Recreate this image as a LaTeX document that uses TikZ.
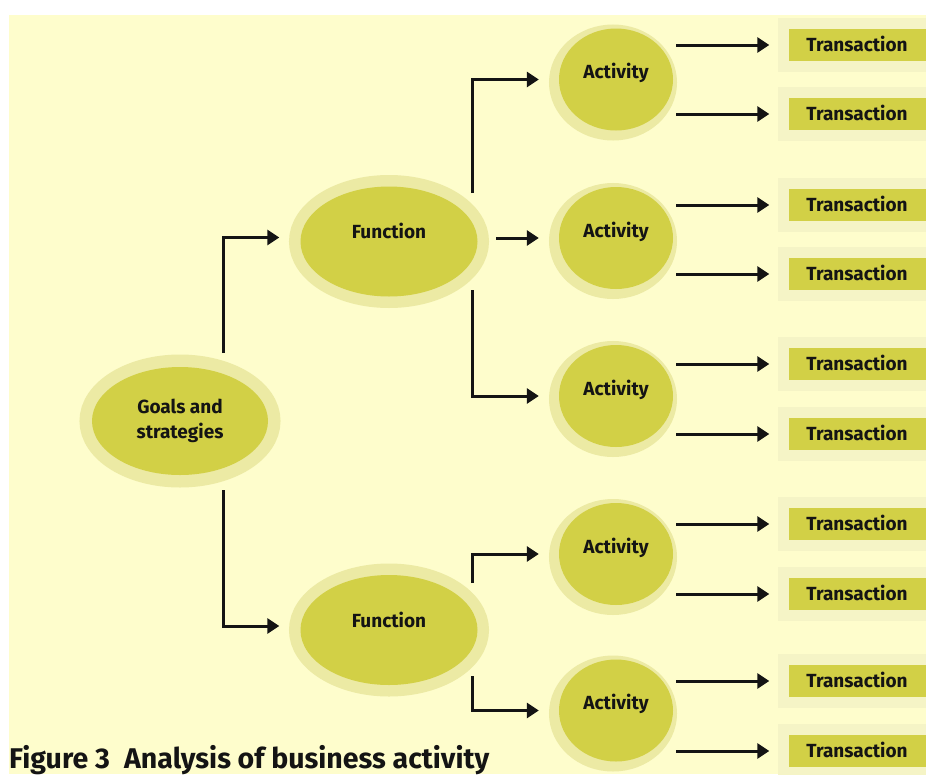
\documentclass[tikz,border=0pt]{standalone}
\usepackage{fontspec}
\setmainfont{Fira Sans}
\usetikzlibrary{arrows.meta,shapes.geometric}

\definecolor{paper}{HTML}{FEFDCC}
\definecolor{olive}{HTML}{D2D046}
\definecolor{glow}{HTML}{ECEAA4}
\definecolor{boxglow}{HTML}{F5F4C6}
\definecolor{ink}{HTML}{141414}

\tikzset{
  every node/.style={font=\bfseries\fontsize{19}{25}\selectfont, text=ink},
  oval/.style={ellipse, inner sep=0pt, fill=olive},
  goalnode/.style={oval, minimum width=176pt, minimum height=108pt, align=center,
    preaction={draw=glow, line width=25pt}},
  funcnode/.style={oval, minimum width=177pt, minimum height=110pt,
    text height=13pt, text depth=19pt, preaction={draw=glow, line width=23pt}},
  actnode/.style={oval, minimum width=114pt, minimum height=102pt,
    text height=13pt, text depth=15pt,
    preaction={draw=glow, line width=14pt, transform canvas={shift={(-3pt,-3pt)}}}},
  transbox/.style={rectangle, inner sep=0pt, fill=olive, minimum width=137pt,
    minimum height=32pt, text height=13pt, text depth=0pt,
    preaction={draw=boxglow, line width=22pt}},
  link/.style={draw=ink, line width=3pt, line join=miter,
    -{Triangle[length=12pt,width=15pt]}},
  caption/.style={font=\bfseries\fontsize{28.5}{32}\selectfont}
}

\begin{document}
\begin{tikzpicture}[x=1pt,y=-1pt]
\useasboundingbox (0,0) rectangle (926,774);
\clip (0,0) rectangle (926,774);
\fill[paper] (9,15) rectangle (926,774);

% hierarchy: goals -> functions -> activities -> transactions
\node[goalnode] (goals) at (180,421) {Goals and\\strategies};
\node[funcnode] (f1) at (389,241.5) {Function};
\node[funcnode] (f2) at (389,630) {Function};

\node[actnode] (a1) at (616,79.5) {Activity};
\node[actnode] (a2) at (616,238) {Activity};
\node[actnode] (a3) at (616,396) {Activity};
\node[actnode] (a4) at (616,554) {Activity};
\node[actnode] (a5) at (616,710.5) {Activity};

\node[transbox] (t1) at (857,45) {Transaction};
\node[transbox] (t2) at (857,114) {Transaction};
\node[transbox] (t3) at (857,205) {Transaction};
\node[transbox] (t4) at (857,274) {Transaction};
\node[transbox] (t5) at (857,364) {Transaction};
\node[transbox] (t6) at (857,434) {Transaction};
\node[transbox] (t7) at (857,524) {Transaction};
\node[transbox] (t8) at (857,594) {Transaction};
\node[transbox] (t9) at (857,681) {Transaction};
\node[transbox] (t10) at (857,751) {Transaction};

% branch points of the elbow connectors
\coordinate (gUp) at (223,353);
\coordinate (gDn) at (223,490);
\coordinate (f1Up) at (472,193);
\coordinate (f1Dn) at (472,290);
\coordinate (f1out) at (496,241);
\coordinate (f2Up) at (472,583);
\coordinate (f2Dn) at (472,676);

\draw[link, shorten >=21pt] (gUp) |- ([yshift=4pt]f1.west);
\draw[link, shorten >=21pt] (gDn) |- ([yshift=4pt]f2.west);

\draw[link, shorten >=20pt] (f1Up) |- (a1.west);
\draw[link, shorten >=20pt] (f1out |- a2.west) -- (a2.west);
\draw[link, shorten >=20pt] (f1Dn) |- (a3.west);
\draw[link, shorten >=20pt] (f2Up) |- (a4.west);
\draw[link, shorten >=20pt] (f2Dn) |- (a5.west);

\foreach \a/\t in {a1/t1,a1/t2,a2/t3,a2/t4,a3/t5,a3/t6,a4/t7,a4/t8,a5/t9,a5/t10}
  \draw[link, shorten <=3pt, shorten >=19pt] (\a.east |- \t.west) -- (\t.west);

\node[caption, anchor=base west, inner sep=0pt] (cap) at (9,768)
  {Figure 3\enspace Analysis of business activity};
\end{tikzpicture}
\end{document}
